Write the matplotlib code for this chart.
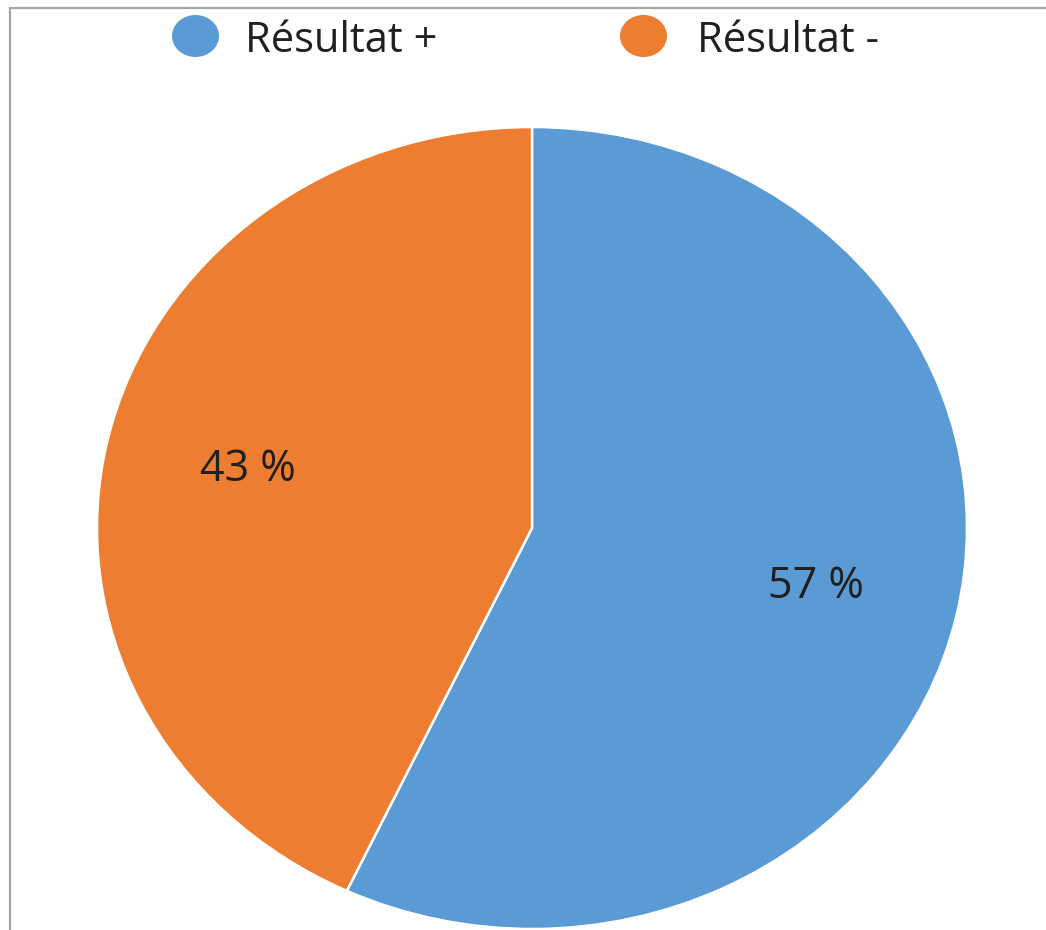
import matplotlib
matplotlib.use("Agg")
import matplotlib.pyplot as plt
from matplotlib.lines import Line2D
from matplotlib.patches import Ellipse

# Data
categories = ["Résultat +", "Résultat -"]
shares = [57, 43]
colors = ["#5B9BD5", "#ED7D31"]
text_color = "#202020"

plt.rcParams["font.family"] = ["Open Sans", "DejaVu Sans"]

W, H = 1046, 930
fig = plt.figure(figsize=(W / 100, H / 100), dpi=100)
fig.patch.set_facecolor("white")

# Pie area (stretched horizontally, bottom slightly clipped)
cx, cy, rx, ry = 532, 528, 435, 401
ax = fig.add_axes([(cx - rx) / W, (H - cy - ry) / H, 2 * rx / W, 2 * ry / H])
wedges, texts, autotexts = ax.pie(
    shares,
    colors=colors,
    startangle=90,
    counterclock=False,
    autopct=lambda p: f"{p:.0f} %",
    pctdistance=0.67,
    wedgeprops=dict(edgecolor="white", linewidth=1.8),
    textprops=dict(color=text_color, fontsize=31),
)
ax.set_aspect("auto")
ax.set_xlim(-1, 1)
ax.set_ylim(-1, 1)
for w in wedges:
    w.set_clip_on(False)

# Legend row: elliptical swatch followed by its label
legend_items = [
    (195.5, 248),   # swatch centre x, label left x (pixels)
    (643.5, 700),
]
swatch_y, label_baseline = 36, 52
for (sx, tx), label, color in zip(legend_items, categories, colors):
    fig.add_artist(Ellipse((sx / W, 1 - swatch_y / H), 47 / W, 42 / H,
                           facecolor=color, edgecolor="none",
                           transform=fig.transFigure))
    fig.text((tx - 3) / W, 1 - label_baseline / H, label, fontsize=30,
             color=text_color, ha="left", va="baseline")

# Chart frame edges
frame_c = "#a6a6a6"
fig.add_artist(Line2D([10 / W, 1], [1 - 8 / H, 1 - 8 / H], color=frame_c, linewidth=1.6,
                      transform=fig.transFigure))
fig.add_artist(Line2D([10 / W, 10 / W], [0, 1 - 8 / H], color=frame_c, linewidth=1.6,
                      transform=fig.transFigure))

fig.savefig("out.png", dpi=100, facecolor="white")
